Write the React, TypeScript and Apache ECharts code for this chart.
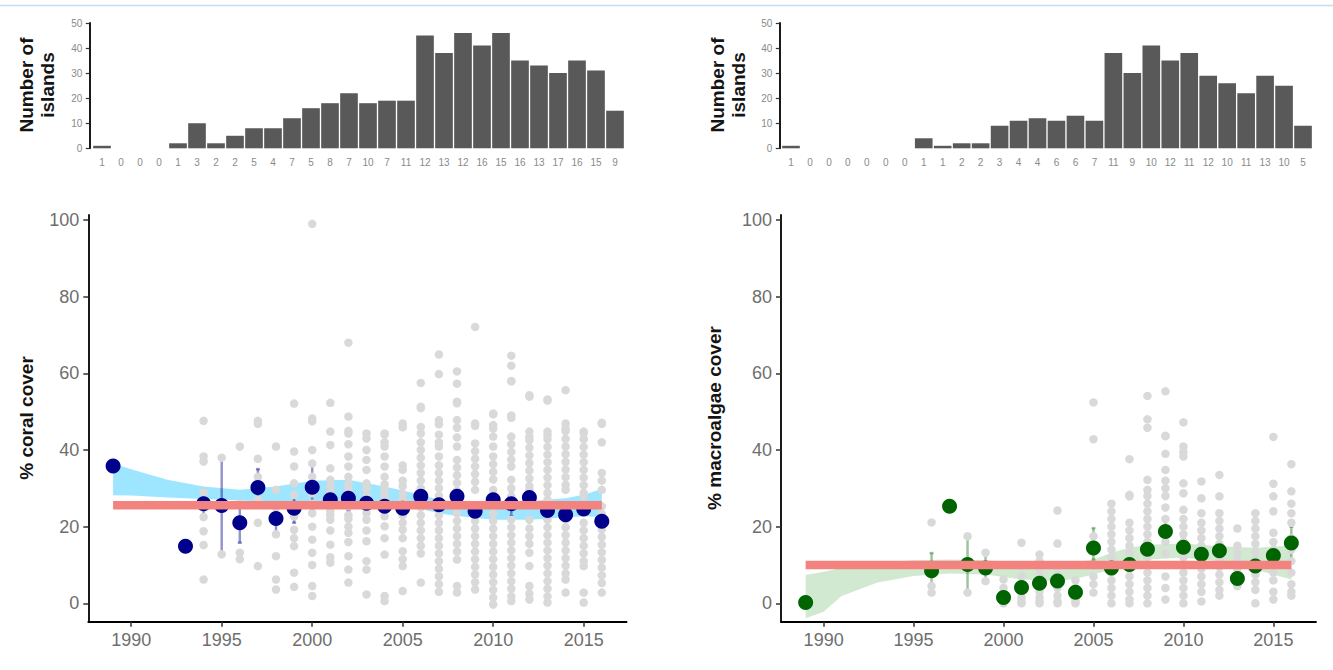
import React, { useEffect, useRef } from 'react';
import * as echarts from 'echarts';

// ---------- categories / ticks ----------
const years = ['1989', '1990', '1991', '1992', '1993', '1994', '1995', '1996', '1997', '1998', '1999', '2000', '2001', '2002', '2003', '2004', '2005', '2006', '2007', '2008', '2009', '2010', '2011', '2012', '2013', '2014', '2015', '2016'];
const yearTicks = [1990, 1995, 2000, 2005, 2010, 2015];
const coverTicks = [0, 20, 40, 60, 80, 100];

// ---------- histograms (number of islands per year) ----------
const coralIslandCounts = [1, 0, 0, 0, 2, 10, 2, 5, 8, 8, 12, 16, 18, 22, 18, 19, 19, 45, 38, 46, 41, 46, 35, 33, 30, 35, 31, 15];
const coralCountLabels = ['1', '0', '0', '0', '1', '3', '2', '2', '5', '4', '7', '5', '8', '7', '10', '7', '11', '12', '13', '12', '16', '15', '16', '13', '17', '16', '15', '9'];
const algaeIslandCounts = [1, 0, 0, 0, 0, 0, 0, 4, 1, 2, 2, 9, 11, 12, 11, 13, 11, 38, 30, 41, 35, 38, 29, 26, 22, 29, 25, 9];
const algaeCountLabels = ['1', '0', '0', '0', '0', '0', '0', '1', '1', '2', '2', '3', '4', '4', '6', '6', '7', '11', '9', '10', '12', '11', '12', '10', '11', '13', '10', '5'];

// ---------- yearly means ----------
const coralMeanYears = [1989, 1993, 1994, 1995, 1996, 1997, 1998, 1999, 2000, 2001, 2002, 2003, 2004, 2005, 2006, 2007, 2008, 2009, 2010, 2011, 2012, 2013, 2014, 2015, 2016];
const coralMeans = [35.8, 14.9, 26.0, 25.5, 21.0, 30.2, 22.1, 24.8, 30.3, 27.0, 27.4, 26.1, 25.3, 24.8, 27.9, 25.7, 27.9, 24.0, 27.0, 26.0, 27.6, 24.2, 23.1, 24.6, 21.4];
const coralErrYears = [1994, 1995, 1996, 1997, 1998, 1999, 2000, 2001, 2002, 2003, 2004, 2005, 2006, 2007, 2008, 2009, 2010, 2011, 2012, 2013, 2014, 2015, 2016];
const coralErrLo = [22.3, 13.2, 15.8, 25.5, 17.5, 21.0, 24.6, 24.2, 24.0, 24.0, 23.1, 22.7, 25.7, 23.5, 25.7, 22.3, 25.5, 22.7, 25.7, 22.7, 21.8, 23.1, 18.4];
const coralErrHi = [29.6, 38.3, 26.3, 35.0, 26.1, 28.7, 36.1, 30.5, 30.6, 28.3, 27.9, 27.4, 29.6, 28.3, 29.6, 25.7, 28.3, 28.7, 29.2, 25.7, 24.4, 26.1, 23.5];

const algaeMeanYears = [1989, 1996, 1997, 1998, 1999, 2000, 2001, 2002, 2003, 2004, 2005, 2006, 2007, 2008, 2009, 2010, 2011, 2012, 2013, 2014, 2015, 2016];
const algaeMeans = [0.2, 8.5, 25.3, 10.1, 9.2, 1.5, 4.1, 5.2, 5.8, 2.9, 14.4, 9.2, 10.1, 14.1, 18.7, 14.6, 12.8, 13.7, 6.5, 9.7, 12.5, 15.7];
const algaeErrYears = [1996, 1998, 1999, 2000, 2001, 2002, 2003, 2004, 2005, 2006, 2007, 2008, 2009, 2010, 2011, 2012, 2013, 2014, 2015, 2016];
const algaeErrLo = [4.5, 3.2, 5.3, 0.5, 2.5, 3.5, 3.5, 1.5, 11.4, 7.5, 8.0, 11.5, 16.0, 12.5, 10.8, 11.5, 4.8, 7.5, 9.5, 11.0];
const algaeErrHi = [13.1, 17.8, 13.3, 2.5, 5.7, 7.0, 8.0, 4.3, 19.6, 11.0, 12.2, 16.7, 21.4, 16.7, 14.8, 15.9, 8.2, 11.9, 15.5, 20.0];

// ---------- linear trend (flat) ----------
const trendYears = [1989, 2016];
const coralTrend = [25.6, 25.6];
const algaeTrend = [10.0, 10.0];

// ---------- smooth confidence bands ----------
const coralBandYears = [1989, 1990, 1992, 1994, 1996, 1998, 2000, 2002, 2004, 2005, 2006, 2007, 2008, 2010, 2012, 2014, 2015, 2016];
const coralBandHi = [36.5, 35.0, 32.2, 30.5, 29.6, 30.5, 32.0, 32.2, 30.5, 29.4, 28.3, 27.0, 26.6, 26.5, 26.6, 27.4, 28.3, 29.8];
const coralBandLo = [28.2, 28.1, 27.6, 27.2, 26.8, 26.6, 26.5, 26.5, 26.4, 25.6, 24.6, 23.5, 22.8, 21.8, 21.8, 22.4, 22.7, 22.5];
const algaeBandYears = [1989, 1990, 1991, 1993, 1995, 1997, 1999, 2001, 2003, 2004, 2005, 2006, 2007, 2008, 2010, 2012, 2014, 2015, 2016];
const algaeBandHi = [7.4, 8.2, 9.2, 10.6, 11.2, 11.4, 11.2, 10.6, 10.3, 10.6, 11.4, 13.2, 14.5, 15.3, 15.6, 14.9, 14.5, 14.8, 15.0];
const algaeBandLo = [-3.9, -2.2, 1.9, 5.4, 7.1, 7.8, 7.5, 6.2, 5.8, 6.4, 7.5, 8.8, 10.1, 11.4, 11.9, 11.0, 8.8, 7.5, 6.2];

// ---------- island observations (grey points) ----------
const coralObs: [number, number[]][] = [
  [1989, [35.8]],
  [1993, [14.9]],
  [1994, [47.6, 38.3, 37, 29, 26, 22.5, 18.8, 15.2, 6.2]],
  [1995, [38, 12.8]],
  [1996, [40.9, 26, 21, 13.2, 11.5]],
  [1997, [47.6, 46.8, 37.7, 33, 30, 27, 21, 9.7]],
  [1998, [40.9, 29.6, 25, 21.8, 18, 12.3, 6.2, 3.6]],
  [1999, [52.1, 39.6, 35.7, 31.3, 28.3, 25.3, 22.7, 19.2, 17, 14.9, 8, 4.3]],
  [2000, [99, 48.2, 47.5, 40, 36.5, 33, 30, 28.7, 26, 23.5, 20, 16.6, 13.2, 10, 4.5, 1.9]],
  [2001, [52.3, 44.8, 41.3, 35.2, 32.2, 30.5, 29, 28, 27, 26, 25, 24, 23, 21.8, 19, 15.3, 12, 10.6]],
  [2002, [68, 48.7, 45, 44.3, 41.5, 38.3, 35.7, 33, 31, 29.6, 28.5, 27.5, 26, 25.3, 23, 22, 20, 18.4, 16, 12.3, 8.8, 5.4]],
  [2003, [44.3, 43, 40, 37.4, 34.8, 31.3, 30, 28, 27, 26, 25.3, 23.5, 21.8, 19, 16.2, 11, 8.8, 2.3]],
  [2004, [44.3, 44, 42, 40.9, 38.3, 35.7, 33, 31, 29.5, 28.7, 27.5, 26.5, 24.5, 22.7, 20.1, 17, 12.7, 1.9, 0.6]],
  [2005, [46.9, 45.9, 36, 34.8, 32, 30.5, 28.5, 27, 26, 25, 24, 23, 21, 19.2, 17, 13.6, 11.5, 9.7, 3.2]],
  [2006, [57.5, 51.3, 50.9, 46, 44.3, 42, 40, 38, 36, 34, 32, 30, 28, 27, 26, 25, 23, 21, 19, 17, 15, 13, 5.4]],
  [2007, [64.9, 59.8, 47.8, 46.7, 44, 42, 40.9, 38.3, 36, 34, 32, 30, 28, 25, 23, 21, 19, 17, 15, 13, 11, 9, 7, 5, 3]],
  [2008, [60.5, 57.3, 52.6, 52.2, 47.8, 45.8, 43.3, 40.9, 37.4, 35.4, 33.4, 31.4, 29.4, 27.4, 25.3, 23.5, 21.5, 19.5, 17.5, 15.5, 13.5, 11.4, 4.5, 2.8]],
  [2009, [72.1, 46.9, 46.3, 41.7, 39.7, 37.7, 35.7, 33.7, 31.7, 29.6, 23.5, 21.5, 19.5, 17.5, 15.5, 13.5, 11.5, 9.5, 7.5, 5.5, 3.6]],
  [2010, [49.5, 49.3, 46.5, 45.6, 43.5, 40.9, 38.3, 36.3, 34.3, 32.3, 29.6, 23.5, 21.5, 19.5, 17.5, 15.5, 13.5, 11.5, 9.5, 7.5, 5.5, 3.5, 1.5, -0.3]],
  [2011, [64.6, 62, 58, 57.9, 49, 48.4, 43.5, 41.5, 39.5, 37.5, 35.7, 32.2, 30, 27.9, 21.8, 19.8, 17.8, 15.8, 13.8, 11.8, 9.8, 7.8, 5.8, 3.8, 1.8, 0.6]],
  [2012, [54.3, 53.9, 44.8, 43.4, 42.6, 40.6, 38.6, 36.6, 34.6, 32.6, 30.6, 29.6, 21.8, 19.5, 17.5, 15.5, 13.2, 9.7, 4.5, 2.5, 1]],
  [2013, [53.2, 52.9, 44.8, 43.9, 42.8, 40.8, 38.8, 36.8, 34.8, 32.8, 30.8, 28.8, 27, 21.8, 19.8, 17.8, 15.8, 13.8, 11.8, 9.8, 7.8, 5.8, 3.8, 1.8, 0.2]],
  [2014, [55.6, 46.9, 45.6, 44.9, 42.9, 40.9, 38.9, 36.9, 34.9, 32.9, 30.9, 29.6, 21.8, 19.8, 17.8, 15.8, 13.8, 11.8, 9.8, 7.8, 6.2, 2.8]],
  [2015, [44.8, 44.3, 42.8, 40.8, 38.8, 36.8, 34.8, 32.8, 30.8, 28.8, 27.9, 21, 19, 17, 15, 13, 11, 9.7, 2.8, 0.2]],
  [2016, [47.1, 46.8, 42, 34, 32, 29.6, 25.3, 23.3, 21.3, 19.3, 17.3, 15.3, 13.3, 11.3, 9.3, 7.3, 5.3, 2.8]],
];
const algaeObs: [number, number[]][] = [
  [1989, [0.2]],
  [1996, [21.1, 8.5, 4.5, 2.8]],
  [1997, [25.3]],
  [1998, [17.5, 2.8]],
  [1999, [13.2, 5.8]],
  [2000, [6.2, 4, 2.8, 1.5, 1, 0.5, 0]],
  [2001, [15.8, 9.7, 7, 5, 3, 1.5, 0.5, 0]],
  [2002, [12.7, 11, 9, 7, 5, 3, 1.5, 0.5, 0]],
  [2003, [24.2, 15.6, 9.7, 7.5, 5.5, 4, 2, 0.5, 0]],
  [2004, [6, 4, 2, 1, 0.3, 0]],
  [2005, [52.4, 42.8, 17.5, 14.9, 9.7, 7, 5, 2.8]],
  [2006, [26, 24, 22, 20, 18, 16, 14, 12, 10, 8, 6, 4, 2, 0]],
  [2007, [37.6, 28.3, 27.9, 21, 19, 17, 15, 13, 11, 9, 7, 5, 3, 1, 0]],
  [2008, [54.1, 48, 45.8, 32.2, 29.6, 28, 26, 24, 22, 20, 18, 16, 14, 12, 10, 8, 6, 4, 2, 0]],
  [2009, [55.3, 43.7, 43.6, 39, 34.8, 32, 30, 28, 25, 22, 19, 16, 13, 10, 7, 4, 1]],
  [2010, [47.2, 40.9, 39.5, 38.3, 31.3, 28.7, 24.4, 22, 20, 18, 16, 14, 12, 10, 8, 6, 4, 2, 0]],
  [2011, [31.8, 27.4, 23.5, 21, 19, 17, 15, 13, 11, 9, 7, 5, 3, 0.5]],
  [2012, [33.5, 27.9, 23.5, 21.5, 19.5, 17.5, 15.5, 13.5, 11.5, 9.5, 7.5, 5.5, 3.5, 2]],
  [2013, [19.5, 15, 13, 11, 9, 7, 5, 4.5]],
  [2014, [23.5, 21.5, 19.5, 17.5, 15.5, 13.5, 11.5, 9.5, 7.5, 5.5, 3.5, 0]],
  [2015, [43.4, 31.2, 27.9, 24, 18.4, 16, 14, 12, 10, 8, 6, 3, 1]],
  [2016, [36.3, 29.2, 26, 23.5, 21, 17, 14, 11, 8, 5, 3, 2]],
];

// ---------- styling ----------
const FONT = "'Liberation Sans', Arial, Helvetica, sans-serif";
const TICK_GREY = '#6e6e6e';
const HIST_GREY = '#8a8a8a';

function histX(gridIndex: number, labels: string[]) {
  return {
    type: 'category', gridIndex, data: years, boundaryGap: true,
    axisLine: { show: false }, axisTick: { show: false },
    axisLabel: { interval: 0, margin: 9, fontSize: 10, color: HIST_GREY, fontFamily: FONT, formatter: (_v: string, i: number) => labels[i] },
    splitLine: { show: false },
  };
}
function histY(gridIndex: number, offset: number) {
  return {
    type: 'value', gridIndex, min: 0, max: 50, interval: 10, offset,
    axisLine: { show: true, lineStyle: { color: '#000', width: 1.8 } },
    axisTick: { show: true, length: 3.5, lineStyle: { color: '#333', width: 1.2 } },
    axisLabel: { margin: 7, fontSize: 10, color: HIST_GREY, fontFamily: FONT },
    splitLine: { show: false },
  };
}
function coverX(gridIndex: number) {
  return {
    type: 'value', gridIndex, min: 1987.63, max: 2017.37,
    axisLine: { show: true, onZero: false, lineStyle: { color: '#000', width: 1.8 } },
    axisTick: { show: true, length: 5, customValues: yearTicks, lineStyle: { color: '#333', width: 1.5 } },
    axisLabel: { customValues: yearTicks, formatter: (v: number) => String(v), margin: 9, fontSize: 18, color: TICK_GREY, fontFamily: FONT },
    splitLine: { show: false },
  };
}
function coverY(gridIndex: number) {
  return {
    type: 'value', gridIndex, min: -4.8, max: 101.3,
    axisLine: { show: true, onZero: false, lineStyle: { color: '#000', width: 1.8 } },
    axisTick: { show: true, length: 5, customValues: coverTicks, lineStyle: { color: '#333', width: 1.5 } },
    axisLabel: { customValues: coverTicks, margin: 9, fontSize: 18, color: TICK_GREY, fontFamily: FONT },
    splitLine: { show: false },
  };
}

function bandSeries(axis: number, xs: number[], hi: number[], lo: number[], fill: string) {
  return {
    type: 'custom', xAxisIndex: axis, yAxisIndex: axis, silent: true,
    data: [[xs[0], hi[0]]],
    renderItem: (_p: any, api: any) => {
      const pts: number[][] = [];
      for (let i = 0; i < xs.length; i++) pts.push(api.coord([xs[i], hi[i]]));
      for (let i = xs.length - 1; i >= 0; i--) pts.push(api.coord([xs[i], lo[i]]));
      return { type: 'polygon', shape: { points: pts, smooth: 0 }, style: { fill } };
    },
  };
}
function errSeries(axis: number, xs: number[], lo: number[], hi: number[], stroke: string) {
  return {
    type: 'custom', xAxisIndex: axis, yAxisIndex: axis, silent: true,
    data: xs.map((x, i) => [x, lo[i], hi[i]]),
    encode: { x: 0, y: [1, 2] },
    renderItem: (_p: any, api: any) => {
      const a = api.coord([api.value(0), api.value(1)]);
      const b = api.coord([api.value(0), api.value(2)]);
      const st = { stroke, lineWidth: 2.5 };
      return {
        type: 'group', children: [
          { type: 'line', shape: { x1: a[0], y1: a[1], x2: b[0], y2: b[1] }, style: st },
          { type: 'line', shape: { x1: a[0] - 2, y1: a[1], x2: a[0] + 2, y2: a[1] }, style: st },
          { type: 'line', shape: { x1: b[0] - 2, y1: b[1], x2: b[0] + 2, y2: b[1] }, style: st },
        ],
      };
    },
  };
}
function obsPoints(obs: [number, number[]][]) {
  const out: number[][] = [];
  obs.forEach(([y, vals]) => vals.forEach((v) => out.push([y, v])));
  return out;
}
function rotatedTitle(x: number, y: number, text: string) {
  return {
    type: 'text', x, y, rotation: Math.PI / 2, silent: true,
    style: { text, fontSize: 19, fontWeight: 'bold', fontFamily: FONT, fill: '#141414', align: 'center', verticalAlign: 'middle', lineHeight: 21 },
  };
}

const option: any = {
  animation: false,
  backgroundColor: '#ffffff',
  grid: [
    { left: 92.5, top: 23, width: 532, height: 125.3 },
    { left: 781.5, top: 23, width: 531, height: 125.3 },
    { left: 88.3, top: 215, width: 538.3, height: 406.7 },
    { left: 781, top: 215, width: 535, height: 406.7 },
  ],
  xAxis: [histX(0, coralCountLabels), histX(1, algaeCountLabels), coverX(2), coverX(3)],
  yAxis: [histY(0, 3.2), histY(1, 2.2), coverY(2), coverY(3)],
  series: [
    { type: 'bar', xAxisIndex: 0, yAxisIndex: 0, data: coralIslandCounts, barCategoryGap: '7%', itemStyle: { color: '#595959' }, silent: true },
    { type: 'bar', xAxisIndex: 1, yAxisIndex: 1, data: algaeIslandCounts, barCategoryGap: '7%', itemStyle: { color: '#595959' }, silent: true },

    { type: 'scatter', xAxisIndex: 2, yAxisIndex: 2, data: obsPoints(coralObs), symbolSize: 8.5, itemStyle: { color: '#d9d9d9', opacity: 1 }, silent: true },
    bandSeries(2, coralBandYears, coralBandHi, coralBandLo, 'rgba(0,190,255,0.38)'),
    { type: 'line', xAxisIndex: 2, yAxisIndex: 2, data: trendYears.map((y, i) => [y, coralTrend[i]]), symbol: 'none', lineStyle: { color: '#F2837F', width: 8.5, cap: 'butt' }, silent: true },
    errSeries(2, coralErrYears, coralErrLo, coralErrHi, 'rgba(0,0,139,0.42)'),
    { type: 'scatter', xAxisIndex: 2, yAxisIndex: 2, data: coralMeanYears.map((y, i) => [y, coralMeans[i]]), symbolSize: 15, itemStyle: { color: '#00008B', opacity: 1 }, silent: true },

    { type: 'scatter', xAxisIndex: 3, yAxisIndex: 3, data: obsPoints(algaeObs), symbolSize: 8.5, itemStyle: { color: '#d9d9d9', opacity: 1 }, silent: true },
    bandSeries(3, algaeBandYears, algaeBandHi, algaeBandLo, 'rgba(0,128,0,0.18)'),
    { type: 'line', xAxisIndex: 3, yAxisIndex: 3, data: trendYears.map((y, i) => [y, algaeTrend[i]]), symbol: 'none', lineStyle: { color: '#F2837F', width: 8.5, cap: 'butt' }, silent: true },
    errSeries(3, algaeErrYears, algaeErrLo, algaeErrHi, 'rgba(0,100,0,0.38)'),
    { type: 'scatter', xAxisIndex: 3, yAxisIndex: 3, data: algaeMeanYears.map((y, i) => [y, algaeMeans[i]]), symbolSize: 15, itemStyle: { color: '#006400', opacity: 1 }, silent: true },
  ],
  graphic: [
    { type: 'line', silent: true, shape: { x1: 0, y1: 5.5, x2: 1333, y2: 5.5 }, style: { stroke: '#c6dcf1', lineWidth: 1.5 } },
    rotatedTitle(37.3, 85, 'Number of\nislands'),
    rotatedTitle(727.5, 85, 'Number of\nislands'),
    rotatedTitle(26.7, 418, '% coral cover'),
    rotatedTitle(714.7, 418, '% macroalgae cover'),
  ],
};

export default function App() {
  const ref = useRef<HTMLDivElement>(null);
  useEffect(() => {
    if (!ref.current) return;
    const chart = echarts.init(ref.current, null, { renderer: 'svg' });
    chart.setOption(option);
    return () => chart.dispose();
  }, []);
  return <div ref={ref} style={{ position: 'absolute', left: 0, top: 0, width: 1333, height: 670, background: '#fff' }} />;
}
